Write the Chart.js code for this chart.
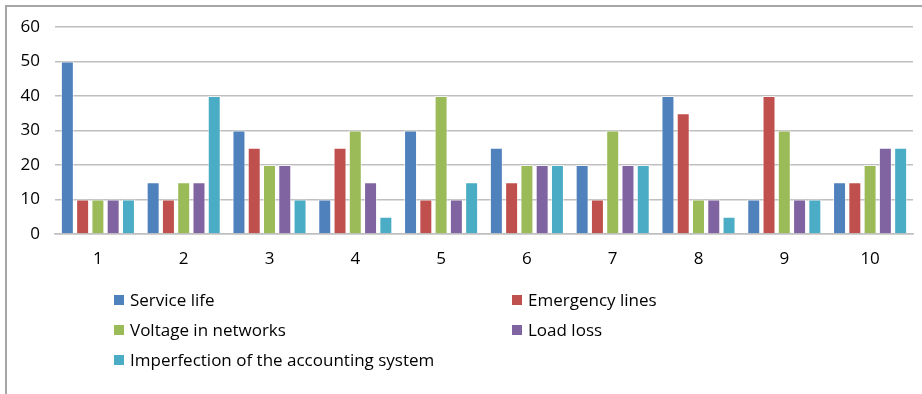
<!DOCTYPE html>
<html>
<head>
<meta charset="utf-8">
<script src="https://cdn.jsdelivr.net/npm/chart.js@4"></script>
<style>
    html, body { margin: 0; padding: 0; background: #fff; }
    #wrap { position: relative; width: 922px; height: 394px; overflow: hidden; }
    #frame { position: absolute; left: 5px; top: 5px; width: 940px; height: 400px;
             border-left: 2px solid #a6a6a6; border-top: 2px solid #a6a6a6; }
    #chart { position: absolute; left: 0; top: 0; }
    .legend-item { position: absolute; font: 17px "Open Sans", sans-serif; color: #000;
                   white-space: nowrap; line-height: 20px; }
    .legend-item span { display: inline-block; width: 10px; height: 10px; margin-right: 6px;
                        vertical-align: 1px; }
</style>
</head>
<body>
<div id="wrap">
    <div id="frame"></div>
    <canvas id="chart" width="922" height="394"></canvas>
</div>
<script>
const categories = ['1', '2', '3', '4', '5', '6', '7', '8', '9', '10'];
const seriesNames = [
    'Service life',
    'Emergency lines',
    'Voltage in networks',
    'Load loss',
    'Imperfection of the accounting system',
];
const serviceLife = [50, 15, 30, 10, 30, 25, 20, 40, 10, 15];
const emergencyLines = [10, 10, 25, 25, 10, 15, 10, 35, 40, 15];
const voltageInNetworks = [10, 15, 20, 30, 40, 20, 30, 10, 30, 20];
const loadLoss = [10, 15, 20, 15, 10, 20, 20, 10, 10, 25];
const accountingSystem = [10, 40, 10, 5, 15, 20, 20, 5, 10, 25];
const yTicks = [0, 10, 20, 30, 40, 50, 60];

const colors = ['#4f81bd', '#c0504d', '#9bbb59', '#8064a2', '#4bacc6'];
const values = [serviceLife, emergencyLines, voltageInNetworks, loadLoss, accountingSystem];

const tickFont = { family: '"Open Sans", sans-serif', size: 17 };

new Chart(document.getElementById('chart'), {
    type: 'bar',
    data: {
        labels: categories,
        datasets: values.map((data, i) => ({
            label: seriesNames[i],
            data,
            backgroundColor: colors[i],
            borderColor: 'rgba(255,255,255,0.6)',
            borderWidth: 1,
            barPercentage: 0.85,
            categoryPercentage: 0.89,
        })),
    },
    options: {
        responsive: false,
        animation: false,
        layout: { padding: { top: 27, right: 9, left: 0, bottom: 0 } },
        plugins: { legend: { display: false }, tooltip: { enabled: false } },
        scales: {
            y: {
                min: 0,
                max: 60,
                afterBuildTicks: (scale) => { scale.ticks = yTicks.map((v) => ({ value: v })); },
                afterFit: (scale) => { scale.width = 55; },
                ticks: { font: tickFont, color: '#000', padding: 15 },
                grid: { color: '#bfbfbf', drawTicks: false, lineWidth: 1.5 },
                border: { display: false },
            },
            x: {
                afterFit: (scale) => { scale.height = 160; },
                ticks: { font: tickFont, color: '#000', padding: 15 },
                grid: { display: false, drawTicks: false },
                border: { display: true, color: '#bfbfbf', width: 1.5 },
            },
        },
    },
});

// Two-column legend like the original sheet.
const wrap = document.getElementById('wrap');
seriesNames.forEach((name, i) => {
    const el = document.createElement('div');
    el.className = 'legend-item';
    el.style.left = (i % 2 === 0 ? 114 : 512) + 'px';
    el.style.top = (290 + Math.floor(i / 2) * 30) + 'px';
    el.innerHTML = `<span style="background:${colors[i]}"></span>${name}`;
    wrap.appendChild(el);
});
</script>
</body>
</html>
